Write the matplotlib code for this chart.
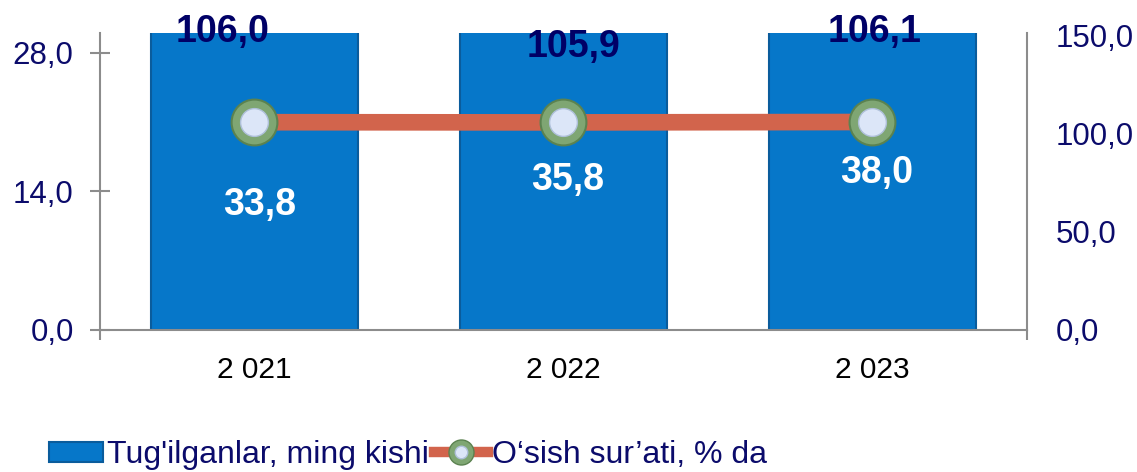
import matplotlib.pyplot as plt
import numpy as np
from matplotlib.lines import Line2D
from matplotlib.patches import Patch
from matplotlib.ticker import FuncFormatter

plt.rcParams["font.family"] = ["Liberation Sans", "DejaVu Sans"]

years = ["2 021", "2 022", "2 023"]
births = [33.8, 35.8, 38.0]          # Tug'ilganlar, ming kishi
growth = [106.0, 105.9, 106.1]       # O'sish sur'ati, % da

# label placement (not data)
bar_label_y = [12.6, 15.1, 15.9]
growth_label_off = [(-32, 90), (10, 75), (2, 90)]

NAVY = "#0B0B6B"
BAR = "#0677C9"
BAR_EDGE = "#0A5C9C"
LINE = "#D2644C"
GREEN = "#7FA673"
GREEN_EDGE = "#5B8250"
INNER = "#DCE6F8"
GRAY = "#8C8C8C"

comma = FuncFormatter(lambda v, _: f"{v:.1f}".replace(".", ","))

fig = plt.figure(figsize=(11.37, 4.72), dpi=100)
ax = fig.add_axes([0.088, 0.301, 0.815, 0.629])
x = np.arange(len(years))

ax.bar(x, births, width=0.67, color=BAR, edgecolor=BAR_EDGE, linewidth=1.5, zorder=2)
ax.set_xlim(-0.5, 2.5)
ax.set_ylim(0, 30)
ax.set_yticks([0, 14, 28])
ax.yaxis.set_major_formatter(comma)
ax.set_xticks(x)
ax.set_xticklabels(years)
ax.set_xticks([-0.5, 2.5], minor=True)

for s in ["left", "bottom"]:
    ax.spines[s].set_color(GRAY)
    ax.spines[s].set_linewidth(1.5)
ax.spines["top"].set_visible(False)
ax.spines["right"].set_visible(False)

ax.tick_params(axis="y", direction="inout", length=14, width=1.5, color=GRAY,
               labelsize=22.5, labelcolor=NAVY, pad=12)
ax.tick_params(axis="x", which="major", direction="in", length=6, width=1.5, color=GRAY,
               labelsize=21.5, labelcolor="black", pad=19)
ax.tick_params(axis="x", which="minor", direction="out", length=7, width=1.5, color=GRAY)

for xi, v, ly in zip(x, births, bar_label_y):
    ax.text(xi + 0.015, ly, f"{v:.1f}".replace(".", ","), ha="center", va="center",
            color="white", fontsize=27, fontweight="bold", zorder=3)

ax2 = ax.twinx()
ax2.set_ylim(0, 151.5)
ax2.set_yticks([0, 50, 100, 150])
ax2.yaxis.set_major_formatter(comma)
for s in ["left", "top", "bottom"]:
    ax2.spines[s].set_visible(False)
ax2.spines["right"].set_color(GRAY)
ax2.spines["right"].set_linewidth(1.5)
ax2.tick_params(axis="y", length=0, labelsize=22.5, labelcolor=NAVY, pad=21)

ax2.plot(x, growth, color=LINE, linewidth=12, solid_capstyle="butt", zorder=3)
ax2.plot(x, growth, "o", markersize=33, markerfacecolor=GREEN,
         markeredgecolor=GREEN_EDGE, markeredgewidth=1.5, zorder=4)
ax2.plot(x, growth, "o", markersize=20, markerfacecolor=INNER,
         markeredgecolor="#AFC0DA", markeredgewidth=1, zorder=5)

for xi, v, off in zip(x, growth, growth_label_off):
    ax2.annotate(f"{v:.1f}".replace(".", ","), (xi, v), xytext=off,
                 textcoords="offset pixels", ha="center", va="center",
                 color="#000066", fontsize=27, fontweight="bold",
                 annotation_clip=False, zorder=6)

bar_handle = Patch(facecolor=BAR, edgecolor=BAR_EDGE, linewidth=1.5)
line_handle = Line2D([], [], color=LINE, linewidth=7.5, marker="o", markersize=18,
                     markerfacecolor=GREEN, markeredgecolor=GREEN_EDGE)
inner_handle = Line2D([], [], linestyle="none", marker="o", markersize=9,
                      markerfacecolor=INNER, markeredgecolor="#AFC0DA")

fig.legend([bar_handle, (line_handle, inner_handle)],
           ["Tug'ilganlar, ming kishi", "O‘sish sur’ati, % da"],
           loc="center left", bbox_to_anchor=(0.043, 0.036), ncol=2,
           frameon=False, fontsize=23, labelcolor=NAVY,
           handlelength=1.7, handleheight=0.6, handletextpad=0.12, columnspacing=0.15,
           borderpad=0, borderaxespad=0)

fig.savefig("out.png", dpi=100)
